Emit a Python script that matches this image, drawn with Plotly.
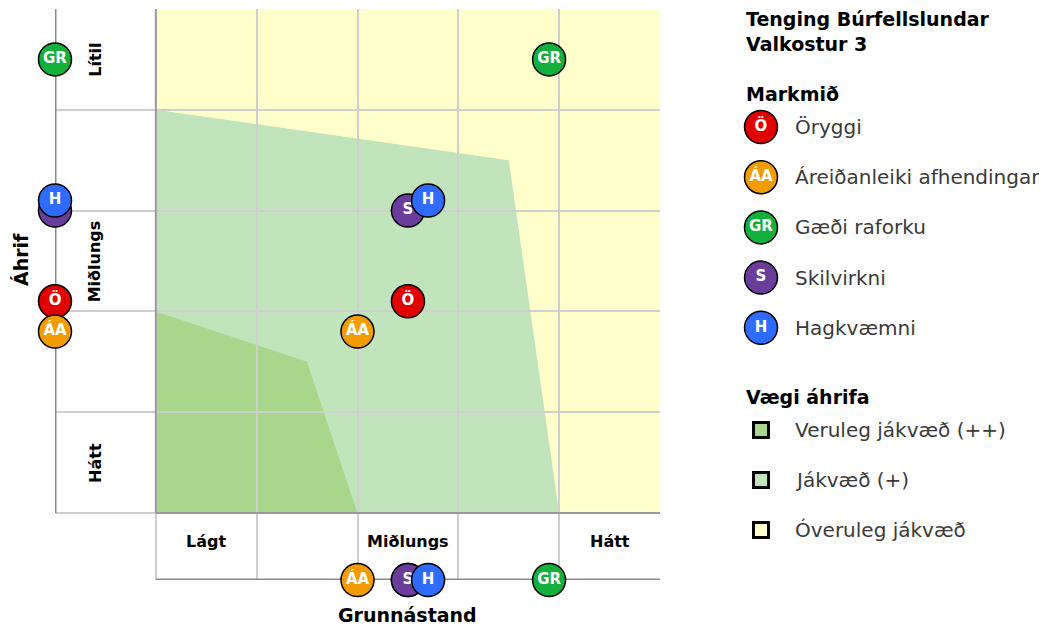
import plotly.graph_objects as go

# ---------------- data ----------------
objectives = ["Öryggi", "Áreiðanleiki afhendingar", "Gæði raforku", "Skilvirkni", "Hagkvæmni"]
codes = ["Ö", "ÁA", "GR", "S", "H"]
obj_colors = ["#E00000", "#F39C00", "#13B03C", "#6A3D9A", "#2F6BFF"]
baseline = [2.5, 2.0, 3.9, 2.5, 2.7]      # Grunnástand (x)
impact = [2.1, 1.8, 4.5, 3.0, 3.1]        # Áhrif (y)

zone_names = ["Veruleg jákvæð (++)", "Jákvæð (+)", "Óveruleg jákvæð"]
zone_colors = ["#A8D68A", "#C1E4BD", "#FFFFCC"]
zone_light_x = [0, 3.5, 4.0, 0]
zone_light_y = [4.0, 3.5, 0, 0]
zone_dark_x = [0, 1.5, 2.0, 0]
zone_dark_y = [2.0, 1.5, 0, 0]

x_labels = ["Lágt", "Miðlungs", "Hátt"]
x_label_pos = [0.5, 2.5, 4.5]
y_labels = ["Lítil", "Miðlungs", "Hátt"]
y_label_pos = [4.5, 2.5, 0.5]

title_lines = ["Tenging Búrfellslundar", "Valkostur 3"]
legend_title_obj = "Markmið"
legend_title_zone = "Vægi áhrifa"

FONT = "DejaVu Sans"
PAGE_W, PAGE_H = 1047, 627
OFF = 8                      # default page body margin
W, H = PAGE_W - OFF, PAGE_H - OFF
XMIN, XMAX = -1, 5
YMIN, YMAX = -0.665, 5


def px(p):
    return (p - OFF) / W


def py(p):
    return 1 - (p - OFF) / H


fig = go.Figure()

# objective markers: in grid, on left axis, on bottom axis
for code, name, col, bx, iy in zip(codes, objectives, obj_colors, baseline, impact):
    fig.add_trace(go.Scatter(
        x=[bx, XMIN, bx], y=[iy, iy, YMIN],
        mode="markers+text", text=[code] * 3, textposition="middle center",
        textfont=dict(family=FONT, size=15, color="white", weight="bold"),
        marker=dict(size=33, color=col, line=dict(color="black", width=1.5)),
        cliponaxis=False, name=name, hoverinfo="name",
        xaxis="x", yaxis="y",
    ))

# legend markers (second axis in page-pixel units)
leg_obj_y = [127 + 50.2 * i for i in range(len(codes))]
fig.add_trace(go.Scatter(
    x=[761] * len(codes), y=leg_obj_y, mode="markers+text",
    text=codes, textposition="middle center",
    textfont=dict(family=FONT, size=15, color="white", weight="bold"),
    marker=dict(size=33, color=obj_colors, line=dict(color="black", width=1.5)),
    cliponaxis=False, hoverinfo="skip", xaxis="x2", yaxis="y2",
))
leg_zone_y = [430 + 50 * i for i in range(len(zone_names))]
fig.add_trace(go.Scatter(
    x=[761] * len(zone_names), y=leg_zone_y, mode="markers",
    marker=dict(size=15, symbol="square", color=zone_colors, line=dict(color="black", width=3)),
    cliponaxis=False, hoverinfo="skip", xaxis="x2", yaxis="y2",
))


def path(xs, ys):
    return "M " + " L ".join(f"{x},{y}" for x, y in zip(xs, ys)) + " Z"


shapes = [
    dict(type="rect", x0=0, x1=5, y0=0, y1=5, xref="x", yref="y",
         fillcolor=zone_colors[2], line=dict(width=0), layer="below"),
    dict(type="path", path=path(zone_light_x, zone_light_y), xref="x", yref="y",
         fillcolor=zone_colors[1], line=dict(width=0), layer="below"),
    dict(type="path", path=path(zone_dark_x, zone_dark_y), xref="x", yref="y",
         fillcolor=zone_colors[0], line=dict(width=0), layer="below"),
    dict(type="line", x0=0, x1=0, y0=0, y1=5, xref="x", yref="y",
         line=dict(color="#9a9a9a", width=2), layer="between"),
    dict(type="line", x0=0, x1=5, y0=0, y1=0, xref="x", yref="y",
         line=dict(color="#9a9a9a", width=2), layer="between"),
    dict(type="line", x0=XMIN, x1=XMIN, y0=0, y1=5, xref="x", yref="y",
         line=dict(color="#8a8a8a", width=3), layer="between"),
    dict(type="line", x0=0, x1=5, y0=YMIN, y1=YMIN, xref="x", yref="y",
         line=dict(color="#8a8a8a", width=3), layer="between"),
]

annotations = []
for lab, yp in zip(y_labels, y_label_pos):
    annotations.append(dict(x=-0.6, y=yp, xref="x", yref="y", text=lab, showarrow=False,
                            textangle=-90, xanchor="center", yanchor="middle",
                            font=dict(family=FONT, size=16, color="black", weight="bold")))
for lab, xp in zip(x_labels, x_label_pos):
    annotations.append(dict(x=xp, y=-0.28, xref="x", yref="y", text=lab, showarrow=False,
                            xanchor="center", yanchor="middle",
                            font=dict(family=FONT, size=16, color="black", weight="bold")))
annotations.append(dict(x=px(21), y=py(260), xref="paper", yref="paper", text="Áhrif", showarrow=False,
                        textangle=-90, xanchor="center", yanchor="middle",
                        font=dict(family=FONT, size=19, color="black", weight="bold")))
annotations.append(dict(x=px(407), y=py(615), xref="paper", yref="paper", text="Grunnástand",
                        showarrow=False, xanchor="center", yanchor="middle",
                        font=dict(family=FONT, size=19, color="black", weight="bold")))

# legend texts
annotations.append(dict(x=744, y=31, xref="x2", yref="y2", xanchor="left", yanchor="middle",
                        text="<br>".join(title_lines), showarrow=False, align="left",
                        font=dict(family=FONT, size=19, color="black", weight="bold")))
annotations.append(dict(x=744, y=94, xref="x2", yref="y2", xanchor="left", yanchor="middle",
                        text=legend_title_obj, showarrow=False,
                        font=dict(family=FONT, size=19, color="black", weight="bold")))
for name, yp in zip(objectives, leg_obj_y):
    annotations.append(dict(x=793, y=yp, xref="x2", yref="y2", xanchor="left", yanchor="middle",
                            text=name, showarrow=False,
                            font=dict(family=FONT, size=20, color="#3a3a3a")))
annotations.append(dict(x=744, y=397, xref="x2", yref="y2", xanchor="left", yanchor="middle",
                        text=legend_title_zone, showarrow=False,
                        font=dict(family=FONT, size=19, color="black", weight="bold")))
for name, yp in zip(zone_names, leg_zone_y):
    annotations.append(dict(x=793, y=yp, xref="x2", yref="y2", xanchor="left", yanchor="middle",
                            text=name, showarrow=False,
                            font=dict(family=FONT, size=20, color="#3a3a3a")))

fig.update_layout(
    width=W, height=H, margin=dict(l=0, r=0, t=0, b=0),
    paper_bgcolor="white", plot_bgcolor="rgba(0,0,0,0)", showlegend=False,
    font=dict(family=FONT),
    xaxis=dict(domain=[px(55), px(660)], range=[XMIN, XMAX], tickvals=[0, 1, 2, 3, 4, 5],
               showticklabels=False, ticks="", showgrid=True, gridcolor="#cfcfcf", gridwidth=1.5,
               zeroline=False, showline=False, fixedrange=True),
    yaxis=dict(domain=[py(580), py(9)], range=[YMIN, YMAX], tickvals=[0, 1, 2, 3, 4, 5],
               showticklabels=False, ticks="", showgrid=True, gridcolor="#cfcfcf", gridwidth=1.5,
               zeroline=False, showline=False, fixedrange=True),
    xaxis2=dict(domain=[px(700), 1], range=[700, PAGE_W], anchor="y2", visible=False, fixedrange=True),
    yaxis2=dict(domain=[0, 1], range=[PAGE_H, OFF], anchor="x2", visible=False, fixedrange=True),
    shapes=shapes, annotations=annotations,
)

fig.write_html("out.html")
